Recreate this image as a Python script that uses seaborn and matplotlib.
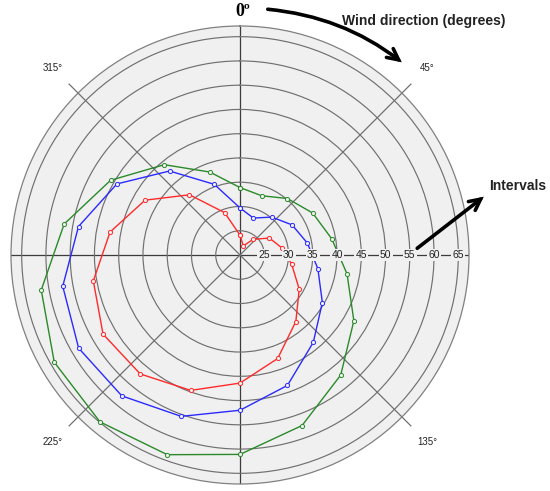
"""
Polar plot of intervals by wind direction
"""
import matplotlib
matplotlib.use("Agg")
import matplotlib.pyplot as plt
import numpy as np
import pandas as pd
import seaborn as sns

angles_deg = [0, 20, 40, 60, 80, 100, 120, 140, 160, 180, 200, 220, 240, 260, 280, 300, 320, 340]
red_vals = [24.1, 22.0, 24.2, 27.0, 28.7, 30.8, 34.1, 37.9, 42.7, 46.4, 49.7, 52.0, 52.6, 50.7, 47.2, 42.6, 36.2, 29.3]
blue_vals = [29.7, 28.1, 30.2, 32.4, 34.1, 36.3, 39.6, 43.5, 48.6, 52.0, 55.4, 57.9, 58.4, 57.1, 53.8, 49.3, 42.6, 35.5]
green_vals = [33.9, 33.0, 35.2, 37.3, 39.2, 42.4, 47.1, 52.3, 57.4, 61.1, 63.8, 64.9, 64.2, 61.6, 56.8, 50.8, 44.3, 38.2]
ring_ticks = [25, 30, 35, 40, 45, 50, 55, 60, 65]
angle_labels = {45: "45°", 135: "135°", 225: "225°", 315: "315°"}

series = {"red": red_vals, "blue": blue_vals, "green": green_vals}
colors = {"red": "#ff2a2a", "blue": "#2a2aff", "green": "#2a8a2a"}

rows = []
for name, vals in series.items():
    # close the loop by repeating the first point
    for i, (a, v) in enumerate(zip(angles_deg + [angles_deg[0]], vals + [vals[0]])):
        rows.append({"series": name, "order": i, "theta": np.deg2rad(a), "r": v})
df = pd.DataFrame(rows)

plt.rcParams["font.family"] = ["Liberation Sans", "DejaVu Sans"]

fig = plt.figure(figsize=(5.5, 4.91), dpi=100)
ax = fig.add_axes([11 / 550, 7 / 491, 458 / 550, 458 / 491], projection="polar")
ax.set_facecolor("#f0f0f0")
ax.set_theta_zero_location("N")
ax.set_theta_direction(-1)
ax.set_rlim(20, 67.2)

ax.set_rgrids(ring_ticks, labels=[""] * len(ring_ticks))
ax.set_thetagrids([0, 45, 90, 135, 180, 225, 270, 315], labels=[""] * 8)
ax.yaxis.grid(True, color="#707070", lw=0.85)
ax.xaxis.grid(False)
ax.spines["polar"].set_color("#808080")
ax.spines["polar"].set_linewidth(0.9)

# spokes: main axes to the edge, diagonals a bit past it
for a in [0, 90, 180, 270]:
    ax.plot([np.deg2rad(a)] * 2, [20, 67.2], color="#3c3c3c", lw=0.9, zorder=1)
for a in [45, 135, 225, 315]:
    ax.plot([np.deg2rad(a)] * 2, [20, 69.8], color="#707070", lw=0.9, zorder=1, clip_on=False)

sns.lineplot(data=df, x="theta", y="r", hue="series", palette=colors, sort=False,
             estimator=None, units="series", legend=False, ax=ax, lw=1.0,
             marker="o", markersize=3, markerfacecolor="#f0f0f0", markeredgewidth=0.7,
             zorder=3)
for line in ax.lines[-3:]:
    line.set_markeredgecolor(line.get_color())
ax.set_xlabel("")
ax.set_ylabel("")
ax.set_rlim(20, 67.2)

for r in ring_ticks:
    ax.text(np.pi / 2, r, str(r), ha="center", va="center", fontsize=7.5, color="#222222",
            bbox=dict(boxstyle="square,pad=0.12", fc="#f0f0f0", ec="none"), zorder=4)

for a, lab in angle_labels.items():
    ax.text(np.deg2rad(a), 74.5, lab, ha="center", va="center", fontsize=7,
            color="#222222", clip_on=False)

fig.text(243 / 550, 1 - 11 / 491, "0º", ha="center", va="center", fontsize=13,
         fontweight="bold", family="Liberation Serif")
fig.text(424 / 550, 1 - 21 / 491, "Wind direction (degrees)", ha="center", va="center",
         fontsize=10, fontweight="bold", color="#222222")
fig.text(518 / 550, 1 - 186 / 491, "Intervals", ha="center", va="center",
         fontsize=10, fontweight="bold", color="#222222")

fig.patches.append(matplotlib.patches.FancyArrowPatch(
    (265 / 550, 1 - 9 / 491), (404 / 550, 1 - 64 / 491), transform=fig.transFigure,
    connectionstyle="arc3,rad=-0.15", arrowstyle="->,head_length=8,head_width=4",
    color="black", lw=2.6, mutation_scale=1, capstyle="round", joinstyle="miter"))
fig.patches.append(matplotlib.patches.FancyArrowPatch(
    (415 / 550, 1 - 250 / 491), (486 / 550, 1 - 195 / 491), transform=fig.transFigure,
    arrowstyle="->,head_length=8,head_width=4",
    color="black", lw=2.6, mutation_scale=1, capstyle="round", joinstyle="miter"))

fig.savefig("out.png", dpi=100)
